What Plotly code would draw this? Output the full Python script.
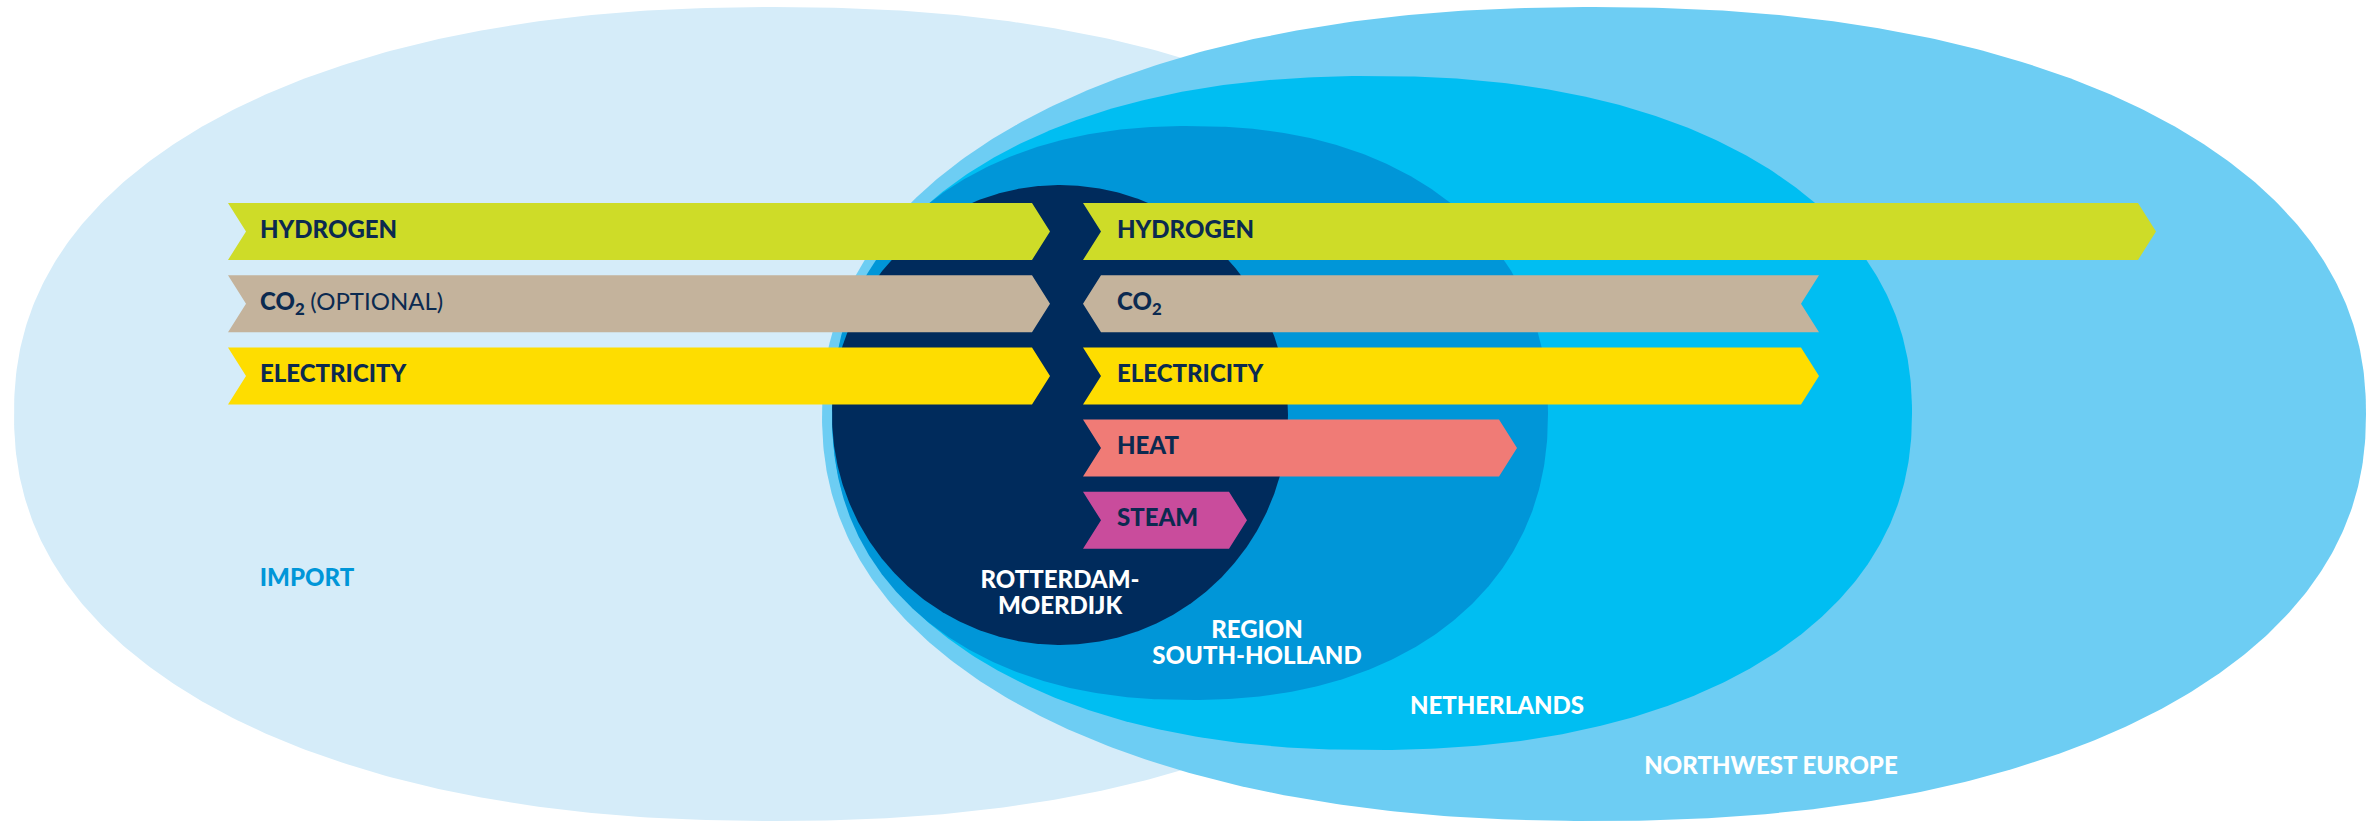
import numpy as np
import plotly.graph_objects as go

# ---------------- data ----------------
# nested areas (drawn back to front)
area_names = ["IMPORT", "NORTHWEST EUROPE", "NETHERLANDS", "REGION|SOUTH-HOLLAND", "ROTTERDAM-|MOERDIJK"]
area_cx = [774, 1594, 1372, 1190, 1060]
area_cy = [414, 414, 413, 413, 415]
area_rx = [760, 772, 540, 358, 228]
area_ry = [407, 407, 337, 287, 230]
area_shape = [2.2, 2.2, 2.2, 2.2, 2.0]
area_colors = ["#D5ECF9", "#6DCDF3", "#00BEF2", "#0096D8", "#002B5C"]
area_label_x = [307, 1771, 1497, 1257, 1060]
area_label_y = [580, 768, 708, 645, 595]
area_label_colors = ["#0096D8", "#FFFFFF", "#FFFFFF", "#FFFFFF", "#FFFFFF"]

# flows coming in from import (left side)
import_labels = ["HYDROGEN", "CO<sub>2</sub> <span style='font-weight:400'>(OPTIONAL)</span>", "ELECTRICITY"]
import_keys = ["HYDROGEN", "CO2", "ELECTRICITY"]
import_rows = [0, 1, 2]
import_start = [228, 228, 228]
import_end = [1050, 1050, 1050]

# flows from the port cluster outwards (right side)
port_labels = ["HYDROGEN", "CO<sub>2</sub>", "ELECTRICITY", "HEAT", "STEAM"]
port_keys = ["HYDROGEN", "CO2", "ELECTRICITY", "HEAT", "STEAM"]
port_rows = [0, 1, 2, 3, 4]
port_start = [1083, 1083, 1083, 1083, 1083]
port_end = [2156, 1819, 1819, 1517, 1247]
port_direction = [1, -1, 1, 1, 1]

flow_colors = {"HYDROGEN": "#CEDC28", "CO2": "#C4B39C", "ELECTRICITY": "#FEDD00",
               "HEAT": "#F07B76", "STEAM": "#C94C9C"}

ROW_Y0 = 231.5
ROW_PITCH = 72.2
BAR_H = 57
NOTCH = 18
TEXT_COLOR = "#0B2A50"
FONT = "Lato"
WEIGHT = 900

fig = go.Figure()

# ---------------- areas ----------------
t = np.linspace(0, 2 * np.pi, 721)
for name, cx, cy, rx, ry, n, col in zip(area_names, area_cx, area_cy, area_rx, area_ry, area_shape, area_colors):
    c, s = np.cos(t), np.sin(t)
    xs = cx + rx * np.sign(c) * np.abs(c) ** (2 / n)
    ys = cy + ry * np.sign(s) * np.abs(s) ** (2 / n)
    fig.add_trace(go.Scatter(x=xs, y=ys, mode="lines", fill="toself", fillcolor=col,
                             line=dict(width=0, color=col), hoverinfo="skip", showlegend=False))


def arrow(x0, x1, yc, direction):
    top, bot = yc - BAR_H / 2, yc + BAR_H / 2
    if direction > 0:
        xs = [x0, x1 - NOTCH, x1, x1 - NOTCH, x0, x0 + NOTCH, x0]
        ys = [top, top, yc, bot, bot, yc, top]
    else:
        xs = [x0, x0 + NOTCH, x1, x1 - NOTCH, x1, x0 + NOTCH, x0]
        ys = [yc, top, top, yc, bot, bot, yc]
    return xs, ys


# ---------------- flows ----------------
for key, row, x0, x1 in zip(import_keys, import_rows, import_start, import_end):
    yc = ROW_Y0 + row * ROW_PITCH
    xs, ys = arrow(x0, x1, yc, 1)
    fig.add_trace(go.Scatter(x=xs, y=ys, mode="lines", fill="toself", fillcolor=flow_colors[key],
                             line=dict(width=0, color=flow_colors[key]), hoverinfo="skip", showlegend=False))

for key, row, x0, x1, d in zip(port_keys, port_rows, port_start, port_end, port_direction):
    yc = ROW_Y0 + row * ROW_PITCH
    xs, ys = arrow(x0, x1, yc, d)
    fig.add_trace(go.Scatter(x=xs, y=ys, mode="lines", fill="toself", fillcolor=flow_colors[key],
                             line=dict(width=0, color=flow_colors[key]), hoverinfo="skip", showlegend=False))

# flow labels
fig.add_trace(go.Scatter(
    x=[x0 + 32 for x0 in import_start],
    y=[ROW_Y0 + r * ROW_PITCH for r in import_rows],
    text=import_labels, mode="text", textposition="middle right",
    textfont=dict(family=FONT, size=24, color=TEXT_COLOR, weight=WEIGHT),
    hoverinfo="skip", showlegend=False))
fig.add_trace(go.Scatter(
    x=[x0 + 34 for x0 in port_start],
    y=[ROW_Y0 + r * ROW_PITCH for r in port_rows],
    text=port_labels, mode="text", textposition="middle right",
    textfont=dict(family=FONT, size=24, color=TEXT_COLOR, weight=WEIGHT),
    hoverinfo="skip", showlegend=False))

# area labels (one text element per line for tight line spacing)
LINE_GAP = 26
lx, ly, lt, lc = [], [], [], []
for name, x, y, col in zip(area_names, area_label_x, area_label_y, area_label_colors):
    lines = name.split("|")
    k = len(lines)
    for i, ln in enumerate(lines):
        lx.append(x)
        ly.append(y + (i - (k - 1) / 2) * LINE_GAP)
        lt.append(ln)
        lc.append(col)
fig.add_trace(go.Scatter(x=lx, y=ly, text=lt, mode="text", textposition="middle center",
                         textfont=dict(family=FONT, size=24, color=lc, weight=WEIGHT),
                         hoverinfo="skip", showlegend=False))

fig.update_layout(
    width=2380, height=822, autosize=False,
    margin=dict(l=0, r=0, t=0, b=0, pad=0),
    paper_bgcolor="white", plot_bgcolor="white",
    xaxis=dict(range=[0, 2380], visible=False, fixedrange=True),
    yaxis=dict(range=[822, 0], visible=False, fixedrange=True),
    showlegend=False,
)

fig.write_html("out.html", config={"displayModeBar": False},
               post_script="document.body.style.margin='0';document.body.style.overflow='hidden';")
